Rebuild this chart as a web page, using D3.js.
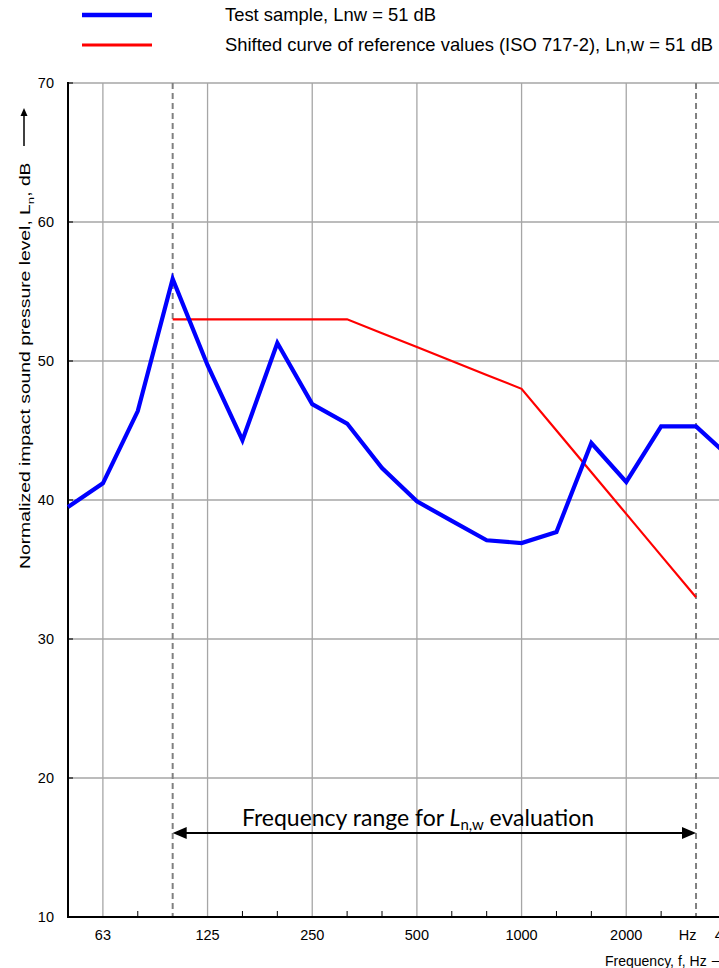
<!DOCTYPE html>
<html>
<head>
<meta charset="utf-8">
<script src="https://cdn.jsdelivr.net/npm/d3@7"></script>
<style>
  html, body { margin: 0; padding: 0; background: #fff; overflow: hidden; }
  svg { display: block; font-family: Arial, "Liberation Sans", sans-serif; }
</style>
</head>
<body>
<svg id="chart" width="719" height="968"></svg>
<script>
// ---- data ----
const bandsHz = [50, 63, 80, 100, 125, 160, 200, 250, 315, 400, 500, 630, 800, 1000, 1250, 1600, 2000, 2500, 3150, 4000];
const testSample = [39.5, 41.2, 46.4, 55.9, 49.7, 44.3, 51.3, 46.9, 45.5, 42.3, 39.9, 38.5, 37.1, 36.9, 37.7, 44.1, 41.3, 45.3, 45.3, 43.0];
const refBandsHz = [100, 125, 160, 200, 250, 315, 400, 500, 630, 800, 1000, 1250, 1600, 2000, 2500, 3150];
const refShifted = [53, 53, 53, 53, 53, 53, 52, 51, 50, 49, 48, 45, 42, 39, 36, 33];
const octaveGridHz = [63, 125, 250, 500, 1000, 2000, 4000];
const xTickLabels = ["63", "125", "250", "500", "1000", "2000", "4000"];
const yTicks = [10, 20, 30, 40, 50, 60, 70];
const evalRangeHz = [100, 3150];
const legendItems = ["Test sample, Lnw = 51 dB", "Shifted curve of reference values (ISO 717-2), Ln,w = 51 dB"];

(function () {
// exact third-octave centre frequency from nominal
const exact = f => 1000 * Math.pow(10, Math.round(10 * Math.log10(f / 1000)) / 10);

const svg = d3.select("#chart");
const pLeft = 68, pTop = 83, pBottom = 917;
const x = d3.scaleLog().domain([exact(50), exact(5000)]).range([pLeft, pLeft + 20 * 34.89]);
const y = d3.scaleLinear().domain([10, 70]).range([pBottom, pTop]);
const pRight = x(exact(5000));

// horizontal grid
svg.append("g").selectAll("line").data(yTicks.filter(v => v > 10)).join("line")
  .attr("x1", pLeft).attr("x2", pRight)
  .attr("y1", d => y(d)).attr("y2", d => y(d))
  .attr("stroke", "#a6a6a6").attr("stroke-width", 1.3);

// vertical octave grid
svg.append("g").selectAll("line").data(octaveGridHz).join("line")
  .attr("x1", d => x(exact(d))).attr("x2", d => x(exact(d)))
  .attr("y1", pTop).attr("y2", pBottom)
  .attr("stroke", "#a6a6a6").attr("stroke-width", 1.3);

// minor ticks at bottom (third-octave)
svg.append("g").selectAll("line").data(bandsHz.filter(f => !octaveGridHz.includes(f) && !evalRangeHz.includes(f) && f > 50)).join("line")
  .attr("x1", d => x(exact(d))).attr("x2", d => x(exact(d)))
  .attr("y1", pBottom).attr("y2", pBottom - 6)
  .attr("stroke", "#000").attr("stroke-width", 1);

// dashed evaluation range lines
svg.append("g").selectAll("line").data(evalRangeHz).join("line")
  .attr("x1", d => x(exact(d))).attr("x2", d => x(exact(d)))
  .attr("y1", pTop).attr("y2", pBottom)
  .attr("stroke", "#808080").attr("stroke-width", 2).attr("stroke-dasharray", "6,4");

// y ticks inward
svg.append("g").selectAll("line").data(yTicks).join("line")
  .attr("x1", pLeft).attr("x2", pLeft + 5)
  .attr("y1", d => y(d)).attr("y2", d => y(d))
  .attr("stroke", "#333").attr("stroke-width", 1.5);

// axes lines
svg.append("line").attr("x1", pLeft).attr("x2", pLeft).attr("y1", pTop - 1).attr("y2", pBottom + 1)
  .attr("stroke", "#000").attr("stroke-width", 2);
svg.append("line").attr("x1", pLeft - 1).attr("x2", pRight).attr("y1", pBottom).attr("y2", pBottom)
  .attr("stroke", "#000").attr("stroke-width", 2);

// y tick labels
svg.append("g").selectAll("text").data(yTicks).join("text")
  .attr("x", 54).attr("y", d => y(d)).attr("dy", "0.36em")
  .attr("text-anchor", "end").attr("font-size", 14.5).attr("fill", "#000")
  .text(d => d);

// x tick labels
svg.append("g").selectAll("text").data(octaveGridHz).join("text")
  .attr("x", d => x(exact(d))).attr("y", 940)
  .attr("text-anchor", "middle").attr("font-size", 14.5).attr("fill", "#000")
  .text((d, i) => xTickLabels[i]);
svg.append("text").attr("x", (x(exact(2500)) + x(exact(3150))) / 2 + 9).attr("y", 940)
  .attr("text-anchor", "middle").attr("font-size", 14.5).text("Hz");

// x axis title
svg.append("text").attr("x", 605).attr("y", 966).attr("font-size", 14).text("Frequency, f, Hz \u27F6");

// y axis title (stretched along its length as in the reference)
const yt = svg.append("text").attr("transform", "translate(30,569) rotate(-90) scale(1.38,1)").attr("font-size", 14);
yt.append("tspan").text("Normalized impact sound pressure level, L");
yt.append("tspan").attr("font-size", 9.5).attr("dy", 4).text("n");
yt.append("tspan").attr("dy", -4).text(", dB");
// arrow for y title
svg.append("line").attr("x1", 24).attr("x2", 24).attr("y1", 146).attr("y2", 114).attr("stroke", "#000").attr("stroke-width", 1.5);
svg.append("path").attr("d", "M24,108 L20.5,116 L27.5,116 Z").attr("fill", "#000");

// lines
const line = d3.line().x(d => x(exact(d[0]))).y(d => y(d[1]));
svg.append("path").datum(refBandsHz.map((f, i) => [f, refShifted[i]]))
  .attr("d", line).attr("fill", "none").attr("stroke", "#ff0000").attr("stroke-width", 2.2);
svg.append("path").datum(bandsHz.map((f, i) => [f, testSample[i]]))
  .attr("d", line).attr("fill", "none").attr("stroke", "#0000ff").attr("stroke-width", 4.2)
  .attr("stroke-linejoin", "miter");

// frequency range annotation
const ax1 = x(exact(evalRangeHz[0])), ax2 = x(exact(evalRangeHz[1])), ay = 833;
svg.append("line").attr("x1", ax1 + 10).attr("x2", ax2 - 10).attr("y1", ay).attr("y2", ay)
  .attr("stroke", "#000").attr("stroke-width", 2);
svg.append("path").attr("d", `M${ax1},${ay} L${ax1 + 14},${ay - 6} L${ax1 + 14},${ay + 6} Z`).attr("fill", "#000");
svg.append("path").attr("d", `M${ax2},${ay} L${ax2 - 14},${ay - 6} L${ax2 - 14},${ay + 6} Z`).attr("fill", "#000");
const at = svg.append("text").attr("x", 418).attr("y", 826).attr("text-anchor", "middle")
  .attr("font-family", "Lato, 'Open Sans', sans-serif").attr("font-size", 23);
at.append("tspan").text("Frequency range for ");
at.append("tspan").attr("font-style", "italic").text("L");
at.append("tspan").attr("font-size", 15).attr("dy", 4).text("n,w");
at.append("tspan").attr("dy", -4).text(" evaluation");

// legend
const legColors = ["#0000ff", "#ff0000"];
const legWidths = [4.5, 3];
const legY = [15, 45];
legendItems.forEach((t, i) => {
  svg.append("line").attr("x1", 82).attr("x2", 152).attr("y1", legY[i]).attr("y2", legY[i])
    .attr("stroke", legColors[i]).attr("stroke-width", legWidths[i]);
  svg.append("text").attr("x", 225).attr("y", legY[i]).attr("dy", "0.35em")
    .attr("font-size", 18.4).text(t);
});
})();
</script>
</body>
</html>
